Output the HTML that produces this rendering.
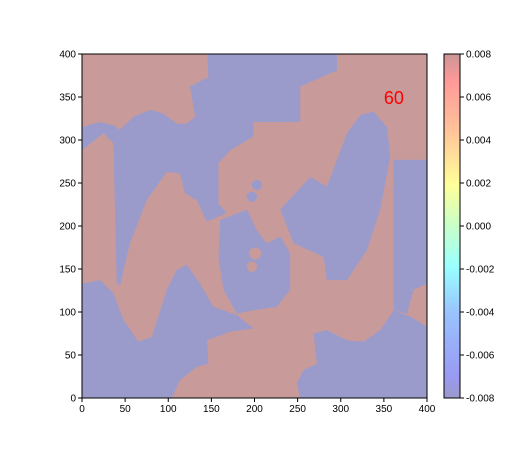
<!DOCTYPE html>
<html><head><meta charset="utf-8"><style>
body{margin:0;background:#fff;width:512px;height:448px;overflow:hidden;font-family:"Liberation Sans",sans-serif}
svg text{font-family:"Liberation Sans",sans-serif;font-size:10px;fill:#000}
</style></head><body>
<svg id="c" width="512" height="448">
<defs>
<linearGradient id="cbg" x1="0" y1="1" x2="0" y2="0">
<stop offset="0" stop-color="#9a9acb"/><stop offset="0.06" stop-color="#9999f2"/>
<stop offset="0.25" stop-color="#99c4ff"/><stop offset="0.38" stop-color="#99ffff"/>
<stop offset="0.5" stop-color="#c8ffc8"/><stop offset="0.62" stop-color="#ffff99"/>
<stop offset="0.78" stop-color="#ffc299"/><stop offset="0.92" stop-color="#ff9999"/>
<stop offset="1" stop-color="#cc9595"/>
</linearGradient>
<clipPath id="clip"><rect x="82" y="54" width="345" height="344"/></clipPath>
</defs>
</svg>
<script>
const pinkColor='rgb(201,154,154)', blueColor='rgb(155,155,203)';
const xTicks=[0,50,100,150,200,250,300,350,400];
const yTicks=[0,50,100,150,200,250,300,350,400];
const cbTicks=['-0.008','-0.006','-0.004','-0.002','0.000','0.002','0.004','0.006','0.008'];
const pinkTop=[[0,400],[145,400],[146,373],[125,362],[131,327],[121,319],[110,319],[94,331],[79,335],[60,328],[44,312],[36,318],[21,322],[0,316]];
const blueMain=[[144.7,400],[295.6,400],[295.6,381],[253,362],[253,321],[198.8,321],[198.8,304],[171.8,288],[158.2,273],[158.2,226],[167.9,215],[144.7,205],[133,230],[119.5,238],[113.7,261],[98.3,263],[75,230],[55.7,180],[44.1,131],[40.2,133],[36.4,296],[24.8,308],[0,288],[0,315],[20.9,321],[36.4,317],[44.1,312],[59.6,327],[78.9,335],[94.4,331],[109.9,319],[121.5,319],[131.1,327],[125.3,362],[146.6,374]];
const blueSwirl=[[160.2,207],[191.1,219],[202.7,195],[214.3,180],[229.8,188],[241.4,168],[241.4,126],[225.9,106],[198.8,102],[179.5,98],[164,126],[158.2,164]];
const blueCenterRight=[[229.8,219],[264.6,257],[283.9,246],[307.2,308],[322.6,329],[338.1,333],[353.6,315],[357.4,281],[345.8,219],[330.4,172],[307.2,137],[283.9,137],[280,164],[245.3,180]];
const blueRightStrip=[[361.3,277],[400,277],[400,133],[384.5,126],[376.8,98],[361.3,102]];
const blueBottomLeft=[[0,133],[20.9,137],[36.4,122],[48,91],[65.4,65.5],[80.9,71],[98.3,126],[109.9,149],[121.5,155],[137,133],[152.4,106],[179.5,96.5],[198.8,81],[171.8,77],[144.7,67],[146.6,40],[133,36],[113.7,21],[104,0],[0,0]];
const blueBottomRight=[[253,0],[400,0],[400,83],[380.7,94.6],[361.3,102],[345.8,79],[326.5,65.5],[307.2,67],[283.9,79],[268.5,75],[272.3,40],[256.9,32.6],[249.1,17]];
const blueBlobs=[[202.7,247.7,6],[197,234,6]];
const pinkBlobs=[[200.8,168,7],[197,152.7,6]];
const X0=82,X1=427,Y0=398,Y1=54;
const sx=v=>X0+v/400*(X1-X0), sy=v=>Y0-v/400*(Y0-Y1), sr=v=>v/400*(X1-X0);
const svg=document.getElementById('c'), NS='http://www.w3.org/2000/svg';
function mk(t,a,p){const e=document.createElementNS(NS,t);for(const k in a)e.setAttribute(k,a[k]);(p||svg).appendChild(e);return e;}
const g=mk('g',{'clip-path':'url(#clip)'});


const bg=mk('rect',{x:X0,y:Y1,width:X1-X0,height:Y0-Y1,fill:pinkColor},g);


const polys=[['blue-main',blueMain,blueColor],['blue-swirl',blueSwirl,blueColor],['blue-center-right',blueCenterRight,blueColor],['blue-right-strip',blueRightStrip,blueColor],['blue-bottom-left',blueBottomLeft,blueColor],['blue-bottom-right',blueBottomRight,blueColor],['pink-top-left',pinkTop,pinkColor]];
polys.forEach(([n,pts,c])=>{
 const p=mk('polygon',{points:pts.map(q=>sx(q[0])+','+sy(q[1])).join(' '),fill:c},g);
 
 
});
blueBlobs.forEach(b=>{const e=mk('circle',{cx:sx(b[0]),cy:sy(b[1]),r:sr(b[2]),fill:blueColor},g);
 
 });
pinkBlobs.forEach(b=>{const e=mk('circle',{cx:sx(b[0]),cy:sy(b[1]),r:sr(b[2]),fill:pinkColor},g);
 
 });
const lbl=mk('text',{x:sx(350),y:sy(350)+7,fill:'red',style:'fill:red;font-size:18px'});
lbl.textContent='60';


const fr=mk('rect',{x:X0,y:Y1,width:X1-X0,height:Y0-Y1,fill:'none',stroke:'#000','stroke-width':1});


xTicks.forEach(v=>{mk('line',{x1:sx(v),x2:sx(v),y1:Y0,y2:Y0+4,stroke:'#000'});
 const t=mk('text',{x:sx(v),y:Y0+14,'text-anchor':'middle'});t.textContent=v;
 
 });
yTicks.forEach(v=>{mk('line',{x1:X0-4,x2:X0,y1:sy(v),y2:sy(v),stroke:'#000'});
 const t=mk('text',{x:X0-6,y:sy(v)+3.5,'text-anchor':'end'});t.textContent=v;
 
 });
const cb=mk('rect',{x:444,y:54,width:16,height:344,fill:'url(#cbg)',stroke:'#000','stroke-width':1});


cbTicks.forEach((s,i)=>{const y=398-i*(344/(cbTicks.length-1));
 mk('line',{x1:460,x2:464,y1:y,y2:y,stroke:'#000'});
 const t=mk('text',{x:466,y:y+3.5});t.textContent=s;
 
 });
</script>
</body></html>
